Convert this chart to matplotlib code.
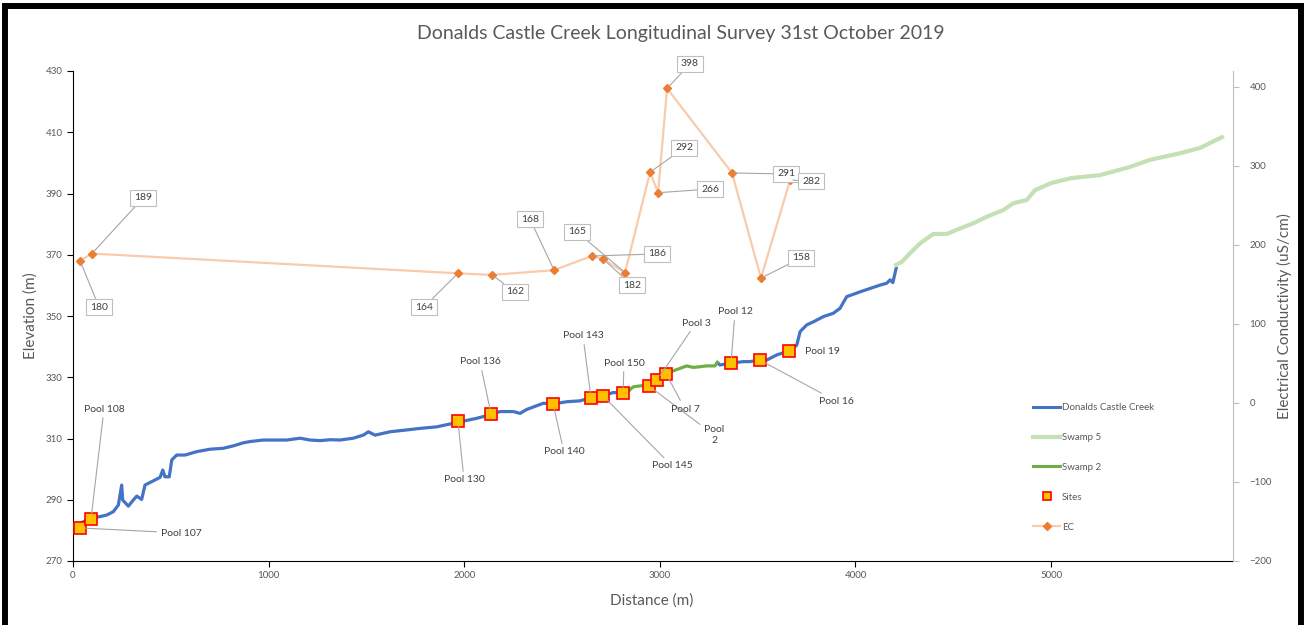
import numpy as np
import matplotlib
matplotlib.use("Agg")
import matplotlib.pyplot as plt
from matplotlib.lines import Line2D
from matplotlib.patches import Rectangle

plt.rcParams['font.family'] = ['Lato', 'DejaVu Sans']

# Donalds Castle Creek long profile (distance m, elevation m); nan = gap where Swamp 2 runs
creek_dist = [0, 53, 87, 138, 172, 206, 232, 249, 254, 283, 308, 326, 351, 368, 402, 445,
              459, 470, 492, 505, 530, 573, 632, 700, 768, 820, 871, 905, 973, 1093, 1161,
              1212, 1263, 1314, 1365, 1433, 1484, 1510, 1544, 1621, 1706, 1774, 1859, 1968,
              2064, 2135, 2183, 2251, 2285, 2320, 2404, 2456, 2524, 2592, 2647, 2711, 2762,
              2812, 2840, np.nan, 3294, 3308, 3359, 3427, 3461, 3512, 3546, 3598, 3666, 3700,
              3717, 3751, 3785, 3836, 3887, 3921, 3955, 4024, 4075, 4126, 4160, 4177, 4191, 4208]
creek_elev = [281.2, 282.8, 284.0, 284.5, 285.0, 286.1, 288.3, 294.8, 289.9, 287.9, 289.9,
              291.2, 290.1, 294.8, 295.9, 297.3, 299.7, 297.5, 297.5, 303.0, 304.6, 304.6,
              305.7, 306.5, 306.8, 307.6, 308.6, 309.0, 309.5, 309.5, 310.1, 309.5, 309.3,
              309.6, 309.5, 310.1, 311.1, 312.2, 311.1, 312.2, 312.8, 313.3, 313.8, 315.3,
              316.6, 317.8, 318.8, 318.8, 318.2, 319.5, 321.5, 321.3, 322.0, 322.3, 323.3,
              324.0, 325.0, 324.9, 325.6, np.nan, 334.8, 334.0, 334.6, 335.1, 335.1, 335.7,
              335.6, 337.3, 338.7, 340.5, 344.9, 347.1, 348.1, 349.8, 350.9, 352.5, 356.3,
              357.9, 359.0, 360.1, 360.7, 361.8, 360.9, 365.6]

swamp2_dist = [2840, 2865, 2941, 2993, 3035, 3103, 3137, 3171, 3240, 3282, 3294]
swamp2_elev = [325.6, 326.9, 327.5, 329.6, 331.3, 332.9, 333.7, 333.2, 333.7, 333.7, 334.8]

swamp5_dist = [4208, 4237, 4279, 4330, 4398, 4467, 4535, 4603, 4671, 4756, 4807, 4876,
               4918, 5000, 5100, 5250, 5400, 5506, 5650, 5762, 5874]
swamp5_elev = [366.7, 367.7, 370.5, 373.7, 376.8, 376.8, 378.6, 380.3, 382.4, 384.6, 386.8,
               387.9, 391.1, 393.4, 395.0, 396.0, 398.6, 401.0, 403.0, 404.9, 408.4]

# survey sites
site_names = ["Pool 107", "Pool 108", "Pool 130", "Pool 136", "Pool 140", "Pool 143", "Pool 145",
              "Pool 150", "Pool\n2", "Pool 3", "Pool 7", "Pool 12", "Pool 16", "Pool 19"]
site_dist = [36, 92, 1968, 2137, 2454, 2648, 2710, 2812, 2945, 2986, 3032, 3364, 3512, 3661]
site_elev = [280.8, 283.7, 315.7, 318.0, 321.3, 323.2, 323.9, 324.9, 327.1, 329.1, 331.1,
             334.7, 335.6, 338.6]
# label centres, figure pixels from top-left
site_lbl = [(181, 533), (104, 409), (464, 480), (480, 362), (564, 452), (583, 336), (672, 466),
            (624, 363), (714, 435), (696, 323), (685, 409), (735, 312), (836, 401), (822, 352)]

# electrical conductivity (uS/cm)
ec_dist = [36, 97, 1968, 2142, 2459, 2653, 2710, 2822, 2950, 2991, 3037, 3369, 3517, 3666]
ec_val = [180, 189, 164, 162, 168, 186, 182, 165, 292, 266, 398, 291, 158, 282]
ec_lbl = [(99, 307), (143, 198), (424, 307), (515, 292), (530, 219), (657, 254), (632, 285),
          (577, 232), (684, 148), (710, 189), (690, 64), (786, 174), (801, 258), (811, 181)]

W, H = 1307, 625
fig = plt.figure(figsize=(W / 100, H / 100), dpi=100)
ax = fig.add_axes([73 / W, 1 - 561 / H, 1160 / W, 490 / H])
ax2 = ax.twinx()

grey = '#595959'
blue = '#4472C4'
lgreen = '#C5E0B4'
green = '#70AD47'
ec_line = '#F8CBAD'
ec_mark = '#ED7D31'

ax.plot(creek_dist, creek_elev, color=blue, lw=2.3, zorder=3)
ax.plot(swamp5_dist, swamp5_elev, color=lgreen, lw=3.0, zorder=3)
ax.plot(swamp2_dist, swamp2_elev, color=green, lw=2.3, zorder=3)
ax.plot(site_dist, site_elev, ls='none', marker='s', ms=8.5, mfc='#FFC000', mec='#FF0000',
        mew=1.2, zorder=5)

ax.set_xlim(0, 5930)
ax.set_ylim(270, 430)
ax.set_yticks(np.arange(270, 431, 20))
ax.set_xticks(np.arange(0, 5001, 1000))

ax2.plot(ec_dist, ec_val, color=ec_line, lw=1.6, marker='D', ms=4.5, mfc=ec_mark,
         mec=ec_mark, zorder=4)
ax2.set_ylim(-200, 420)
ax2.set_yticks(np.arange(-200, 401, 100))

for a in (ax, ax2):
    a.spines['top'].set_visible(False)
    a.tick_params(labelsize=7, labelcolor=grey, length=4, width=0.8)
ax.spines['left'].set_color('#000000')
ax.spines['bottom'].set_color('#000000')
ax.spines['right'].set_visible(False)
ax2.spines['left'].set_visible(False)
ax2.spines['bottom'].set_visible(False)
ax2.spines['right'].set_color('#BFBFBF')
ax2.tick_params(axis='y', color='#BFBFBF', pad=8)

ax.set_ylabel("Elevation (m)", fontsize=11, color=grey)
ax.yaxis.set_label_coords(-0.03, 0.5)
ax.set_xlabel("Distance (m)", fontsize=11, color=grey)
ax.xaxis.set_label_coords(0.499, -0.067)
ax2.set_ylabel("Electrical Conductivity (uS/cm)", fontsize=11, color=grey)
ax2.yaxis.set_label_coords(1.038, 0.5)

fig.text(681 / W, 1 - 33 / H, "Donalds Castle Creek Longitudinal Survey 31st October 2019",
         ha='center', va='center', fontsize=14, color=grey)

# site labels with leader lines
for name, x, y, (lx, ly) in zip(site_names, site_dist, site_elev, site_lbl):
    arrow = None if name == "Pool 19" else dict(arrowstyle='-', color='#A6A6A6', lw=0.8,
                                                 shrinkA=1, shrinkB=4)
    ax2.annotate(name, xy=(x, y), xycoords=ax.transData, xytext=(lx, H - ly),
                 textcoords='figure pixels', ha='center', va='center', fontsize=7.5,
                 color='#404040', arrowprops=arrow, zorder=6, linespacing=1.4)

# EC value callouts
for x, v, (lx, ly) in zip(ec_dist, ec_val, ec_lbl):
    ax2.annotate(str(v), xy=(x, v), xytext=(lx, H - ly), textcoords='figure pixels',
                 ha='center', va='center', fontsize=7.5, color='#404040',
                 bbox=dict(boxstyle='square,pad=0.35', fc='white', ec='#BFBFBF', lw=0.8),
                 arrowprops=dict(arrowstyle='-', color='#A6A6A6', lw=0.8, shrinkA=0, shrinkB=2),
                 zorder=6)

handles = [
    Line2D([], [], color=blue, lw=2.2),
    Line2D([], [], color=lgreen, lw=3.0),
    Line2D([], [], color=green, lw=2.2),
    Line2D([], [], ls='none', marker='s', ms=6, mfc='#FFC000', mec='#FF0000', mew=1.2),
    Line2D([], [], color=ec_line, lw=1.6, marker='D', ms=4.5, mfc=ec_mark, mec=ec_mark),
]
labels = ["Donalds Castle Creek", "Swamp 5", "Swamp 2", "Sites", "EC"]
leg = ax2.legend(handles, labels, loc='upper left', frameon=False, fontsize=7,
                 labelcolor=grey, handlelength=2.8, handletextpad=0.2, labelspacing=2.15,
                 borderpad=0, borderaxespad=0)
leg.set_bbox_to_anchor((1033 / W, 1 - 403 / H), transform=fig.transFigure)

# black frame round the chart
fig.add_artist(Rectangle((5 / W, -0.05), 1296 / W, 1.05 - 6 / H, transform=fig.transFigure,
                         fill=False, ec='black', lw=4.3))

fig.savefig("out.png", dpi=100)
